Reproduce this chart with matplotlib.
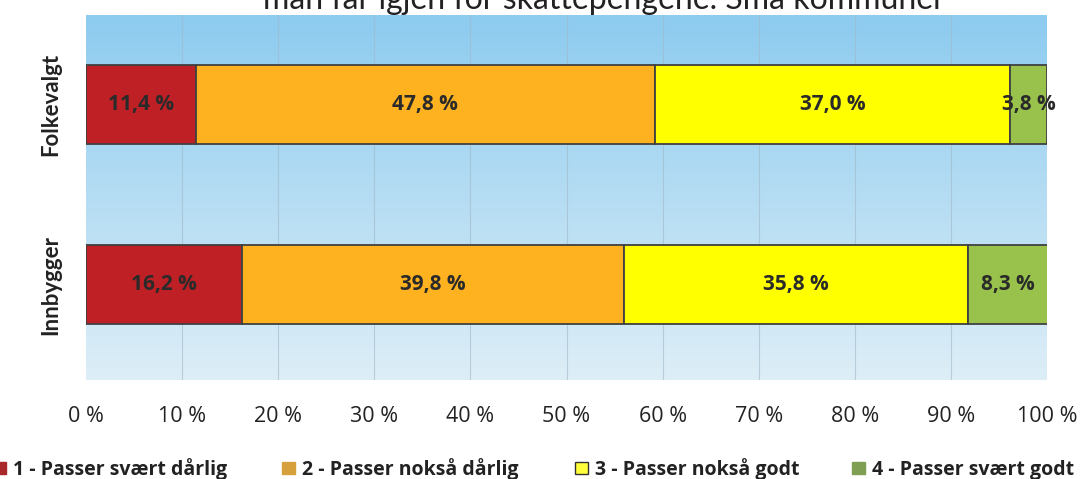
import numpy as np
import matplotlib
matplotlib.use("Agg")
import matplotlib.pyplot as plt
from matplotlib.patches import Rectangle
from matplotlib.colors import LinearSegmentedColormap

plt.rcParams["font.family"] = ["Lato", "DejaVu Sans"]

groups = ["Innbygger", "Folkevalgt"]
categories = ["1 - Passer svært dårlig", "2 - Passer nokså dårlig",
              "3 - Passer nokså godt", "4 - Passer svært godt"]
values = {
    "1 - Passer svært dårlig": [16.2, 11.4],
    "2 - Passer nokså dårlig": [39.8, 47.8],
    "3 - Passer nokså godt": [35.8, 37.0],
    "4 - Passer svært godt": [8.3, 3.8],
}
colors = ["#be2025", "#ffb21f", "#ffff00", "#98c24b"]
legend_colors = ["#a8282c", "#d6a03c", "#ffff3a", "#7fa052"]
xticks = [0, 10, 20, 30, 40, 50, 60, 70, 80, 90, 100]
title = "man får igjen for skattepengene. Små kommuner"

W, H = 1088, 479
fig = plt.figure(figsize=(W / 100, H / 100), dpi=100)
ax = fig.add_axes([86 / W, 1 - 380 / H, (1047 - 86) / W, (380 - 15) / H])

# gradient background, darker blue at top
grad = LinearSegmentedColormap.from_list("bg", ["#ddeef7", "#8dcbef"])
ax.imshow(np.linspace(0, 1, 256).reshape(-1, 1), cmap=grad, aspect="auto",
          extent=[0, 100, -0.53, 1.5], origin="lower", zorder=0)

for x in xticks[1:-1]:
    ax.axvline(x, color="#9fb9c9", lw=0.8, alpha=0.6, zorder=1)

y = np.arange(len(groups))
left = np.zeros(len(groups))
for cat, col in zip(categories, colors):
    vals = np.array(values[cat])
    ax.barh(y, vals, left=left, height=0.44, color=col,
            edgecolor="#404040", lw=1.3, zorder=3)
    for yi, l, v in zip(y, left, vals):
        ax.text(l + v / 2, yi, f"{v:.1f} %".replace(".", ","),
                ha="center", va="center", fontsize=15, fontweight="bold",
                family=["Open Sans", "DejaVu Sans"],
                color="#2a2a2a", zorder=4)
    left += vals

ax.set_xlim(0, 100)
ax.set_ylim(-0.53, 1.5)
ax.set_xticks(xticks)
ax.set_xticklabels([f"{t} %" for t in xticks], fontsize=15.5,
                   family=["Open Sans", "DejaVu Sans"], color="#222222")
ax.tick_params(axis="x", length=0, pad=19)
ax.set_yticks(y)
ax.set_yticklabels(groups, rotation=90, va="center", fontsize=16,
                   fontweight="bold", color="#222222")
ax.tick_params(axis="y", length=0, pad=18)
for s in ax.spines.values():
    s.set_visible(False)

# title, partly cut off at the top as in the scanned original
fig.text(604 / W, 1 - 9 / H, title, ha="center", va="baseline", fontsize=23,
         color="#222222")

# legend, laid out by hand along the bottom edge
patch_x = [-7, 282, 575, 852]
for px, lab, c, i in zip(patch_x, categories, legend_colors, range(4)):
    fig.patches.append(Rectangle((px / W, 1 - 474 / H), 13 / W, 12 / H,
                                 transform=fig.transFigure,
                                 facecolor=c,
                                 edgecolor="#333333" if i == 2 else c,
                                 lw=1))
    fig.text((px + 20) / W, 1 - 475 / H, lab, ha="left", va="baseline",
             fontsize=14, fontweight="bold",
             family=["Open Sans", "DejaVu Sans"], color="#222222")

fig.savefig("out.png", dpi=100)
